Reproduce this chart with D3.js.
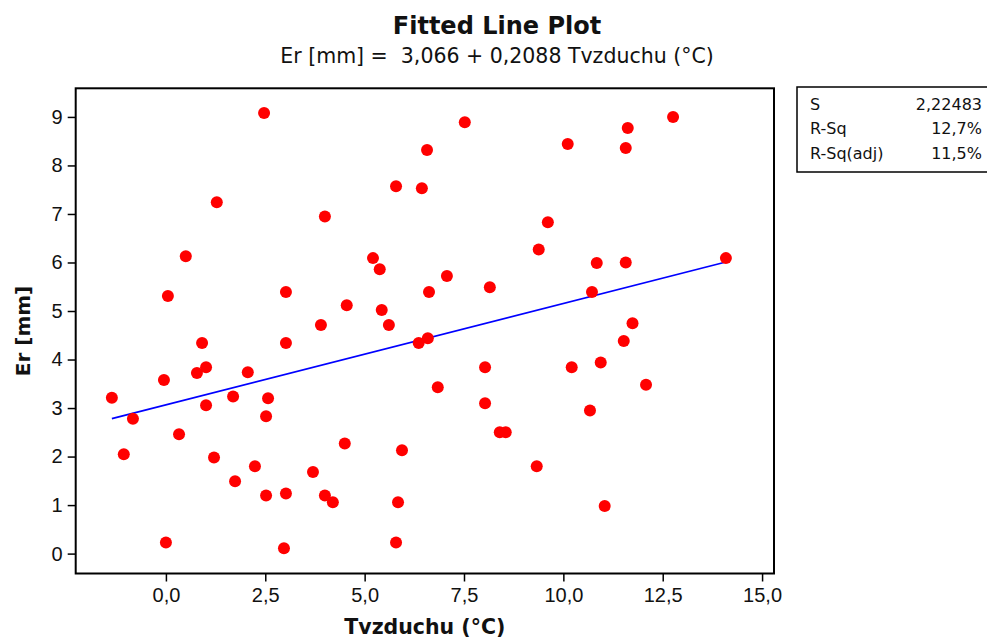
<!DOCTYPE html>
<html>
<head>
<meta charset="utf-8">
<script src="https://cdn.jsdelivr.net/npm/d3@7"></script>
<style>
  body { margin: 0; background: #fff; }
  svg { font-family: 'DejaVu Sans', sans-serif; }
  .tick text { font-size: 20px; fill: #111; }
  .tick line, .domain { stroke: #000; stroke-width: 1.5; }
</style>
</head>
<body>
<svg width="987" height="638"></svg>
<script>
// data
const tvzduchu = [
  -1.36, -1.06, -0.83, -0.05, 0.05, 0.00, 0.33, 0.50, 0.78, 0.91, 1.01, 1.01,
  1.21, 1.28, 1.69, 1.74, 2.06, 2.24, 2.47, 2.52, 2.57, 2.52, 2.97, 3.02,
  3.02, 3.02, 3.70, 3.90, 4.00, 4.00, 4.20, 4.50, 4.55, 5.21, 5.38, 5.43,
  5.61, 5.79, 5.84, 5.79, 5.94, 6.36, 6.44, 6.57, 6.59, 6.62, 6.84, 7.07,
  7.52, 8.03, 8.03, 8.15, 8.40, 8.55, 9.38, 9.33, 9.61, 10.11, 10.21, 10.67,
  10.72, 10.84, 10.94, 11.04, 11.52, 11.57, 11.57, 11.62, 11.74, 12.08, 12.76, 14.09
];
const er = [
  3.21, 2.05, 2.78, 3.58, 5.31, 0.23, 2.46, 6.13, 3.72, 4.34, 3.84, 3.06,
  1.98, 7.24, 3.24, 1.49, 3.74, 1.80, 9.08, 2.83, 3.20, 1.20, 0.11, 1.24,
  4.34, 5.39, 1.68, 4.71, 6.95, 1.20, 1.06, 2.27, 5.12, 6.09, 5.86, 5.02,
  4.71, 7.57, 1.06, 0.23, 2.13, 4.34, 7.53, 8.32, 4.44, 5.39, 3.43, 5.72,
  8.89, 3.84, 3.10, 5.49, 2.50, 2.50, 6.27, 1.80, 6.83, 8.44, 3.84, 2.95,
  5.39, 5.99, 3.94, 0.98, 4.38, 6.00, 8.36, 8.77, 4.75, 3.48, 9.00, 6.09
];
const xTicks = [0, 2.5, 5, 7.5, 10, 12.5, 15];
const yTicks = [0, 1, 2, 3, 4, 5, 6, 7, 8, 9];
const intercept = 3.066;
const slope = 0.2088;
const statNames = ['S', 'R-Sq', 'R-Sq(adj)'];
const statValues = ['2,22483', '12,7%', '11,5%'];

const points = tvzduchu.map((x, i) => ({ x, y: er[i] }));

const svg = d3.select('svg');

const plotLeft = 75.7, plotRight = 774, plotTop = 88.3, plotBottom = 573.5;

const xScale = d3.scaleLinear().domain([-2.27, 15.30]).range([plotLeft, plotRight]);
const yScale = d3.scaleLinear().domain([-0.41, 9.59]).range([plotBottom, plotTop]);

// comma as decimal separator
const locale = d3.formatLocale({ decimal: ',', thousands: ' ', grouping: [3], currency: ['', ''] });
const xFormat = locale.format('.1f');

// frame
svg.append('rect')
  .attr('x', plotLeft).attr('y', plotTop)
  .attr('width', plotRight - plotLeft).attr('height', plotBottom - plotTop)
  .attr('fill', 'none')
  .attr('stroke', '#000')
  .attr('stroke-width', 2);

const xAxisG = svg.append('g')
  .attr('transform', `translate(0,${plotBottom})`)
  .call(d3.axisBottom(xScale).tickValues(xTicks).tickFormat(xFormat)
    .tickSize(8).tickSizeOuter(0).tickPadding(6));
xAxisG.select('.domain').remove();

const yAxisG = svg.append('g')
  .attr('transform', `translate(${plotLeft},0)`)
  .call(d3.axisLeft(yScale).tickValues(yTicks).tickFormat(d3.format('d'))
    .tickSize(8).tickSizeOuter(0).tickPadding(5));
yAxisG.select('.domain').remove();

// fitted line
const xExt = d3.extent(tvzduchu);
svg.append('line')
  .attr('x1', xScale(xExt[0])).attr('y1', yScale(intercept + slope * xExt[0]))
  .attr('x2', xScale(xExt[1])).attr('y2', yScale(intercept + slope * xExt[1]))
  .attr('stroke', '#0000ff')
  .attr('stroke-width', 1.6);

svg.selectAll('circle').data(points)
  .enter().append('circle')
  .attr('cx', d => xScale(d.x))
  .attr('cy', d => yScale(d.y))
  .attr('r', 6)
  .attr('fill', '#ff0000');

// titles
svg.append('text')
  .attr('x', 497).attr('y', 34)
  .attr('text-anchor', 'middle')
  .attr('font-size', 24).attr('font-weight', 'bold')
  .attr('fill', '#111')
  .text('Fitted Line Plot');

svg.append('text')
  .attr('x', 497).attr('y', 63)
  .attr('text-anchor', 'middle')
  .attr('font-size', 20.5)
  .attr('fill', '#111')
  .attr('xml:space', 'preserve')
  .text('Er [mm] =  3,066 + 0,2088 Tvzduchu (°C)');

svg.append('text')
  .attr('x', (plotLeft + plotRight) / 2).attr('y', 634)
  .attr('text-anchor', 'middle')
  .attr('font-size', 20.5).attr('font-weight', 'bold')
  .attr('fill', '#111')
  .text('Tvzduchu (°C)');

svg.append('text')
  .attr('transform', `translate(30,331) rotate(-90)`)
  .attr('text-anchor', 'middle')
  .attr('font-size', 20).attr('font-weight', 'bold')
  .attr('fill', '#111')
  .text('Er [mm]');

// stats box
const statsG = svg.append('g').attr('transform', 'translate(797,87)');
statsG.append('rect')
  .attr('width', 200).attr('height', 85)
  .attr('fill', '#fff')
  .attr('stroke', '#000')
  .attr('stroke-width', 1.5);

const rowY = d3.scalePoint().domain(statNames).range([23, 71.5]);

statsG.selectAll('.stat-name').data(statNames)
  .enter().append('text')
  .attr('class', 'stat-name')
  .attr('x', 13)
  .attr('y', d => rowY(d))
  .attr('font-size', 16)
  .attr('fill', '#111')
  .text(d => d);

statsG.selectAll('.stat-value').data(statValues)
  .enter().append('text')
  .attr('class', 'stat-value')
  .attr('x', 185)
  .attr('y', (d, i) => rowY(statNames[i]))
  .attr('text-anchor', 'end')
  .attr('font-size', 16)
  .attr('fill', '#111')
  .text(d => d);
</script>
</body>
</html>
